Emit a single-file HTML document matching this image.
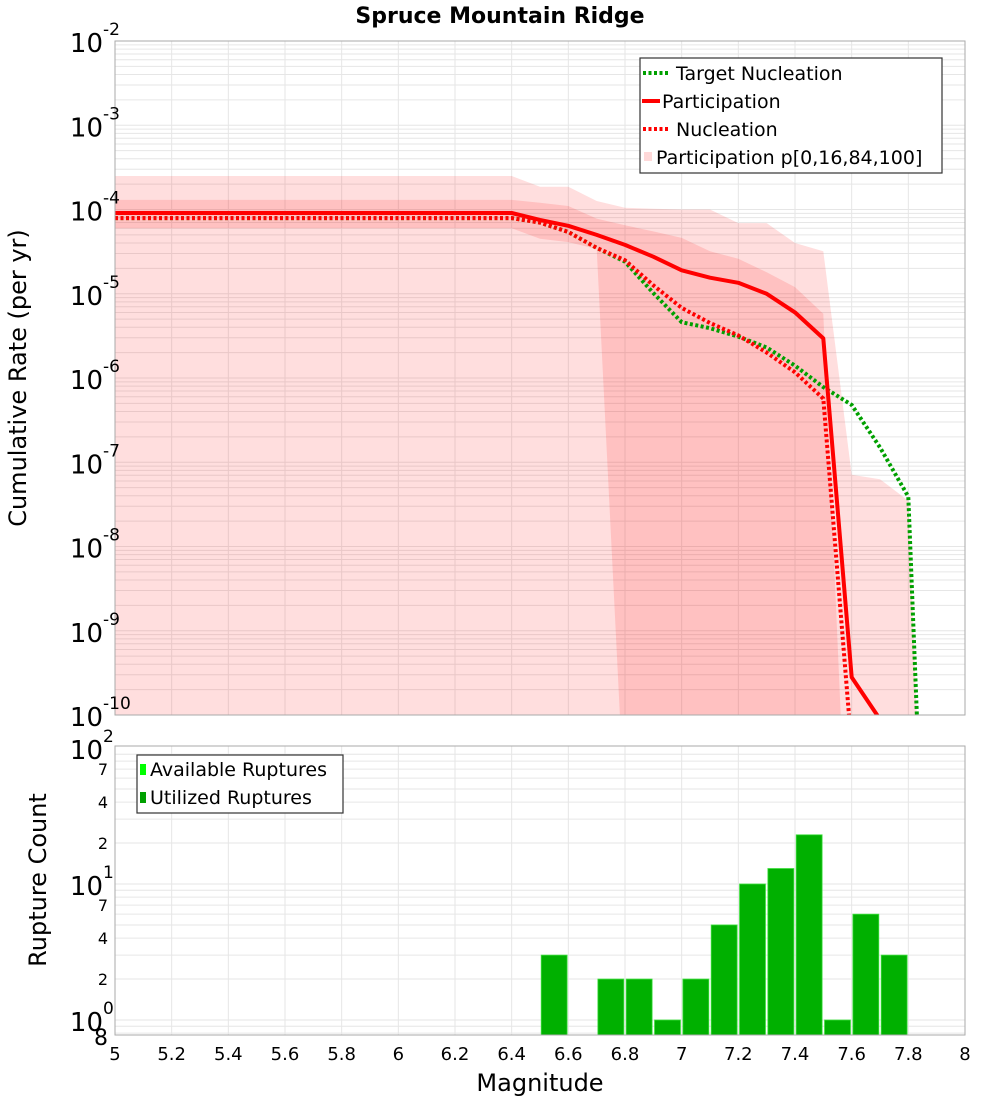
<!DOCTYPE html>
<html><head><meta charset="utf-8"><style>
html,body{margin:0;padding:0;background:#fff;}
svg{display:block;font-family:"DejaVu Sans","Liberation Sans",sans-serif;}
</style></head><body>
<svg id="chart" width="1000" height="1100" xmlns="http://www.w3.org/2000/svg">
<defs>
<clipPath id="clipTop"><rect x="115" y="41" width="850" height="674"/></clipPath>
<clipPath id="clipBot"><rect x="115" y="746" width="850" height="289"/></clipPath>
</defs>
<rect x="0" y="0" width="1000" height="1100" fill="#fff"/>
<text x="500" y="23" text-anchor="middle" font-size="22" font-weight="bold">Spruce Mountain Ridge</text>
<g id="topPlot"></g>
<g id="botPlot"></g>
<text transform="translate(26,378) rotate(-90)" text-anchor="middle" font-size="24">Cumulative Rate (per yr)</text>
<text transform="translate(46,880) rotate(-90)" text-anchor="middle" font-size="24">Rupture Count</text>
<text x="540" y="1091" text-anchor="middle" font-size="24">Magnitude</text>
</svg>
<script>
// Data
const mags = [5.0,5.1,5.2,5.3,5.4,5.5,5.6,5.7,5.8,5.9,6.0,6.1,6.2,6.3,6.4,6.5,6.6,6.7,6.8,6.9,7.0,7.1,7.2,7.3,7.4,7.5,7.6,7.7];
const participation = [9.1e-5,9.1e-5,9.1e-5,9.1e-5,9.1e-5,9.1e-5,9.1e-5,9.1e-5,9.1e-5,9.1e-5,9.1e-5,9.1e-5,9.1e-5,9.1e-5,9.1e-5,7.5e-5,6.4e-5,5.0e-5,3.8e-5,2.75e-5,1.9e-5,1.55e-5,1.35e-5,1.0e-5,6.0e-6,2.95e-6,2.8e-10,8.9e-11];
const nucleation = [7.9e-5,7.9e-5,7.9e-5,7.9e-5,7.9e-5,7.9e-5,7.9e-5,7.9e-5,7.9e-5,7.9e-5,7.9e-5,7.9e-5,7.9e-5,7.9e-5,7.9e-5,7.0e-5,5.4e-5,3.5e-5,2.5e-5,1.26e-5,6.8e-6,4.5e-6,3.2e-6,2.0e-6,1.17e-6,5.7e-7,4e-11,null];
const targetMags = [5.0,5.1,5.2,5.3,5.4,5.5,5.6,5.7,5.8,5.9,6.0,6.1,6.2,6.3,6.4,6.5,6.6,6.7,6.8,6.9,7.0,7.1,7.2,7.3,7.4,7.5,7.6,7.7,7.8,7.9];
const targetNucleation = [7.9e-5,7.9e-5,7.9e-5,7.9e-5,7.9e-5,7.9e-5,7.9e-5,7.9e-5,7.9e-5,7.9e-5,7.9e-5,7.9e-5,7.9e-5,7.9e-5,7.9e-5,7.0e-5,5.4e-5,3.5e-5,2.4e-5,1.02e-5,4.6e-6,3.9e-6,3.1e-6,2.3e-6,1.4e-6,7.8e-7,4.8e-7,1.5e-7,3.9e-8,1e-16];
const bandMags = [5.0,5.1,5.2,5.3,5.4,5.5,5.6,5.7,5.8,5.9,6.0,6.1,6.2,6.3,6.4,6.5,6.6,6.7,6.8,6.9,7.0,7.1,7.2,7.3,7.4,7.5,7.6,7.7,7.8,7.9];
const p100 = [2.5e-4,2.5e-4,2.5e-4,2.5e-4,2.5e-4,2.5e-4,2.5e-4,2.5e-4,2.5e-4,2.5e-4,2.5e-4,2.5e-4,2.5e-4,2.5e-4,2.5e-4,1.86e-4,1.86e-4,1.26e-4,1.05e-4,1.02e-4,1.0e-4,1.0e-4,6.9e-5,6.9e-5,4.0e-5,3.2e-5,7.1e-8,6.3e-8,3.5e-8,1e-16];
const p84 = [1.3e-4,1.3e-4,1.3e-4,1.3e-4,1.3e-4,1.3e-4,1.3e-4,1.3e-4,1.3e-4,1.3e-4,1.3e-4,1.3e-4,1.3e-4,1.3e-4,1.3e-4,1.2e-4,1.1e-4,7.8e-5,6.5e-5,5.5e-5,4.6e-5,3.2e-5,2.6e-5,1.8e-5,1.2e-5,5.8e-6,1e-13,1e-13,1e-13,1e-13];
const p16 = [6.0e-5,6.0e-5,6.0e-5,6.0e-5,6.0e-5,6.0e-5,6.0e-5,6.0e-5,6.0e-5,6.0e-5,6.0e-5,6.0e-5,6.0e-5,6.0e-5,6.0e-5,4.5e-5,4.1e-5,3.4e-5,6e-12,1e-13,1e-13,1e-13,1e-13,1e-13,1e-13,1e-13,1e-13,1e-13,1e-13,1e-13];
const p0 = [1e-13,1e-13,1e-13,1e-13,1e-13,1e-13,1e-13,1e-13,1e-13,1e-13,1e-13,1e-13,1e-13,1e-13,1e-13,1e-13,1e-13,1e-13,1e-13,1e-13,1e-13,1e-13,1e-13,1e-13,1e-13,1e-13,1e-13,1e-13,1e-13,1e-13];
const barMags = [6.5,6.7,6.8,6.9,7.0,7.1,7.2,7.3,7.4,7.5,7.6,7.7];
const utilized = [3,2,2,1,2,5,10,13,23,1,6,3];
const xTicks = ["5","5.2","5.4","5.6","5.8","6","6.2","6.4","6.6","6.8","7","7.2","7.4","7.6","7.8","8"];
const topExps = [-2,-3,-4,-5,-6,-7,-8,-9,-10];
const botMinorLabels = ["2","4","7"];

const NS="http://www.w3.org/2000/svg";
const X0=115,X1=965;
const x = m => X0 + (m-5)/3*(X1-X0);
const TY0=41,TY1=715;
const yTop = v => TY0 + (-2 - Math.log10(v))*(TY1-TY0)/8;
const yBot = v => 1020 - 136*Math.log10(v);
function mk(tag,attrs,parent){const e=document.createElementNS(NS,tag);for(const k in attrs)e.setAttribute(k,attrs[k]);parent.appendChild(e);return e;}
const topG=document.getElementById('topPlot'), botG=document.getElementById('botPlot');

// top frame & grid
mk('rect',{x:X0,y:TY0,width:X1-X0,height:TY1-TY0,fill:'#fff'},topG);
const tg=mk('g',{stroke:'#e6e6e6','stroke-width':1},topG);
for(let e=-10;e<-2;e++){for(let k=1;k<10;k++){const yy=yTop(k*Math.pow(10,e));mk('line',{x1:X0,x2:X1,y1:yy,y2:yy},tg);}}
xTicks.forEach(t=>{const xx=x(parseFloat(t));mk('line',{x1:xx,x2:xx,y1:TY0,y2:TY1},tg);});
// bands
const bandG=mk('g',{'clip-path':'url(#clipTop)'},topG);
function band(up,lo,fill,name){
  let d='';bandMags.forEach((m,i)=>{d+=(i?'L':'M')+x(m).toFixed(1)+','+yTop(up[i]).toFixed(1);});
  for(let i=bandMags.length-1;i>=0;i--)d+='L'+x(bandMags[i]).toFixed(1)+','+yTop(lo[i]).toFixed(1);
  const p=mk('path',{d:d+'Z',fill:fill},bandG);
  
  
}
band(p100,p0,'rgba(255,0,0,0.13)','band-p0-p100');
band(p84,p16,'rgba(255,0,0,0.13)','band-p16-p84');
function line(ms,vs,color,dash,name){
  let d='',started=false;ms.forEach((m,i)=>{if(vs[i]==null)return;d+=(started?'L':'M')+x(m).toFixed(1)+','+yTop(vs[i]).toFixed(1);started=true;});
  const a={d:d,fill:'none',stroke:color,'stroke-width':4,'stroke-linejoin':'round'};
  if(dash)a['stroke-dasharray']=dash;
  const p=mk('path',a,bandG);
  
  
}
line(targetMags,targetNucleation,'#00a000','3 2.5','target-nucleation-line');
line(mags,participation,'#ff0000',null,'participation-line');
line(mags,nucleation,'#ff0000','3 2.5','nucleation-line');
mk('rect',{x:X0,y:TY0,width:X1-X0,height:TY1-TY0,fill:'none',stroke:'#aaa','stroke-width':1},topG);
// top y labels
topExps.forEach(e=>{const yy=yTop(Math.pow(10,e));
  const t=mk('text',{x:103,y:yy+11,'text-anchor':'end','font-size':26},topG);t.textContent='10';
  
  const s=mk('text',{x:103,y:yy-6,'text-anchor':'start','font-size':17},topG);s.textContent=String(e);
  
});
// top legend
const lg=mk('g',{},topG);
mk('rect',{x:640,y:58,width:302,height:115,fill:'#fff',stroke:'#333','stroke-width':1.2},lg);
mk('line',{x1:643,x2:670,y1:73,y2:73,stroke:'#00a000','stroke-width':4,'stroke-dasharray':'3 2.5'},lg);
mk('line',{x1:642,x2:660,y1:101,y2:101,stroke:'#ff0000','stroke-width':4},lg);
mk('line',{x1:643,x2:670,y1:129,y2:129,stroke:'#ff0000','stroke-width':4,'stroke-dasharray':'3 2.5'},lg);
mk('rect',{x:644,y:152,width:8,height:9,fill:'rgba(255,0,0,0.15)'},lg);
[['Target Nucleation',676,80],['Participation',662,108],['Nucleation',676,136],['Participation p[0,16,84,100]',656,164]].forEach(a=>{
  const t=mk('text',{x:a[1],y:a[2],'font-size':19},lg);t.textContent=a[0];
  });

// bottom
const BY0=746,BY1=1035;
mk('rect',{x:X0,y:BY0,width:X1-X0,height:BY1-BY0,fill:'#fff'},botG);
const bg=mk('g',{stroke:'#e6e6e6','stroke-width':1,'clip-path':'url(#clipBot)'},botG);
for(let e=-1;e<2;e++){for(let k=1;k<10;k++){const yy=yBot(k*Math.pow(10,e));mk('line',{x1:X0,x2:X1,y1:yy,y2:yy},bg);}}
xTicks.forEach(t=>{const xx=x(parseFloat(t));mk('line',{x1:xx,x2:xx,y1:BY0,y2:BY1},bg);});
const barG=mk('g',{'clip-path':'url(#clipBot)'},botG);
const bw=(X1-X0)/30;
barMags.forEach((m,i)=>{const yy=yBot(utilized[i]);
  const r=mk('rect',{x:x(m)+1.2,y:yy,width:bw-2.4,height:BY1-yy,fill:'#00b000',stroke:'#3ee03e','stroke-width':0.8},barG);
  
  
});
mk('rect',{x:X0,y:BY0,width:X1-X0,height:BY1-BY0,fill:'none',stroke:'#aaa','stroke-width':1},botG);
[[2,100],[1,10],[0,1]].forEach(a=>{const yy=yBot(a[1]);
  const t=mk('text',{x:103,y:yy+11,'text-anchor':'end','font-size':26},botG);t.textContent='10';
  
  const s=mk('text',{x:103,y:yy-6,'text-anchor':'start','font-size':17},botG);s.textContent=String(a[0]);
  
});
[1,10].forEach(base=>{botMinorLabels.forEach(l=>{const yy=yBot(base*parseFloat(l));
  const t=mk('text',{x:108,y:yy+6,'text-anchor':'end','font-size':16},botG);t.textContent=l;
  });});
{const t=mk('text',{x:108,y:yBot(0.8)+12,'text-anchor':'end','font-size':22},botG);t.textContent='8';
 }
xTicks.forEach(tk=>{const t=mk('text',{x:x(parseFloat(tk)),y:1060,'text-anchor':'middle','font-size':18},botG);t.textContent=tk;
  });
const bl=mk('g',{},botG);
mk('rect',{x:137,y:755,width:206,height:58,fill:'#fff',stroke:'#333','stroke-width':1.2},bl);
mk('rect',{x:140,y:764,width:6,height:11,fill:'#00ff00'},bl);
mk('rect',{x:140,y:792,width:6,height:11,fill:'#00a000'},bl);
[['Available Ruptures',776],['Utilized Ruptures',804]].forEach(a=>{const t=mk('text',{x:150,y:a[1],'font-size':19},bl);t.textContent=a[0];
  });
</script>
</body></html>
